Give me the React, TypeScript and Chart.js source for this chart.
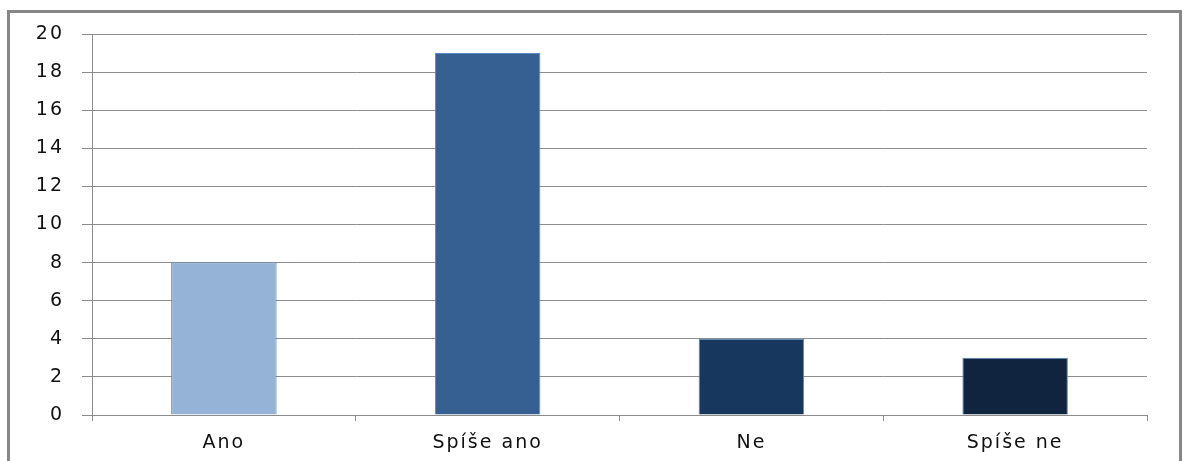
import React, { useEffect, useRef } from "react";
import { Chart, registerables } from "chart.js";

Chart.register(...registerables);

const categories = ["Ano", "Spíše ano", "Ne", "Spíše ne"];
const values = [8, 19, 4, 3];
const barColors = ["#95B3D7", "#366092", "#17375E", "#10243F"];
const yTicks = [0, 2, 4, 6, 8, 10, 12, 14, 16, 18, 20];

const SPACING = "2px";
const spacingPlugin = {
  id: "spacing",
  afterInit(chart: any) {
    chart.ctx.letterSpacing = SPACING;
  },
  beforeLayout(chart: any) {
    chart.ctx.letterSpacing = SPACING;
  },
  beforeDraw(chart: any) {
    chart.ctx.letterSpacing = SPACING;
  },
};

export default function App() {
  const ref = useRef<HTMLCanvasElement>(null);
  useEffect(() => {
    if (!ref.current) return;
    const chart = new Chart(ref.current, {
      type: "bar",
      data: {
        labels: categories,
        datasets: [
          {
            data: values,
            backgroundColor: barColors,
            borderColor: "#5A88C6",
            borderWidth: 1,
            categoryPercentage: 1,
            barPercentage: 0.4,
          },
        ],
      },
      plugins: [spacingPlugin],
      options: {
        animation: false,
        responsive: false,
        devicePixelRatio: 1,
        layout: { padding: { top: 34, right: 38, left: 0, bottom: 0 } },
        plugins: { legend: { display: false }, tooltip: { enabled: false } },
        scales: {
          x: {
            border: { display: true, color: "#8c8c8c", width: 1 },
            grid: {
              display: true,
              offset: true,
              drawOnChartArea: false,
              drawTicks: true,
              tickLength: 6,
              color: "#8c8c8c",
            },
            ticks: {
              color: "#111",
              font: { family: "DejaVu Sans", size: 19 },
              padding: 11,
              maxRotation: 0,
            },
            afterFit: (s: any) => {
              s.height = 46;
            },
          },
          y: {
            min: 0,
            max: 20,
            border: { display: true, color: "#8c8c8c", width: 1 },
            grid: { color: "#8c8c8c", tickLength: 10, lineWidth: 1 },
            afterBuildTicks: (s: any) => {
              s.ticks = yTicks.map((v) => ({ value: v }));
            },
            ticks: {
              color: "#111",
              font: { family: "DejaVu Sans", size: 19 },
              padding: 18,
            },
            afterFit: (s: any) => {
              s.width = 92;
            },
          },
        },
      },
    });
    return () => chart.destroy();
  }, []);
  return (
    <div>
      <canvas
        ref={ref}
        width={1185}
        height={461}
        style={{ position: "absolute", left: 0, top: 0, width: 1185, height: 461 }}
      />
      <div
        style={{
          position: "absolute",
          left: 7,
          top: 10,
          width: 1175,
          height: 451,
          borderTop: "3px solid #878787",
          borderLeft: "3px solid #878787",
          borderRight: "3px solid #878787",
          boxSizing: "border-box",
          pointerEvents: "none",
        }}
      />
    </div>
  );
}
